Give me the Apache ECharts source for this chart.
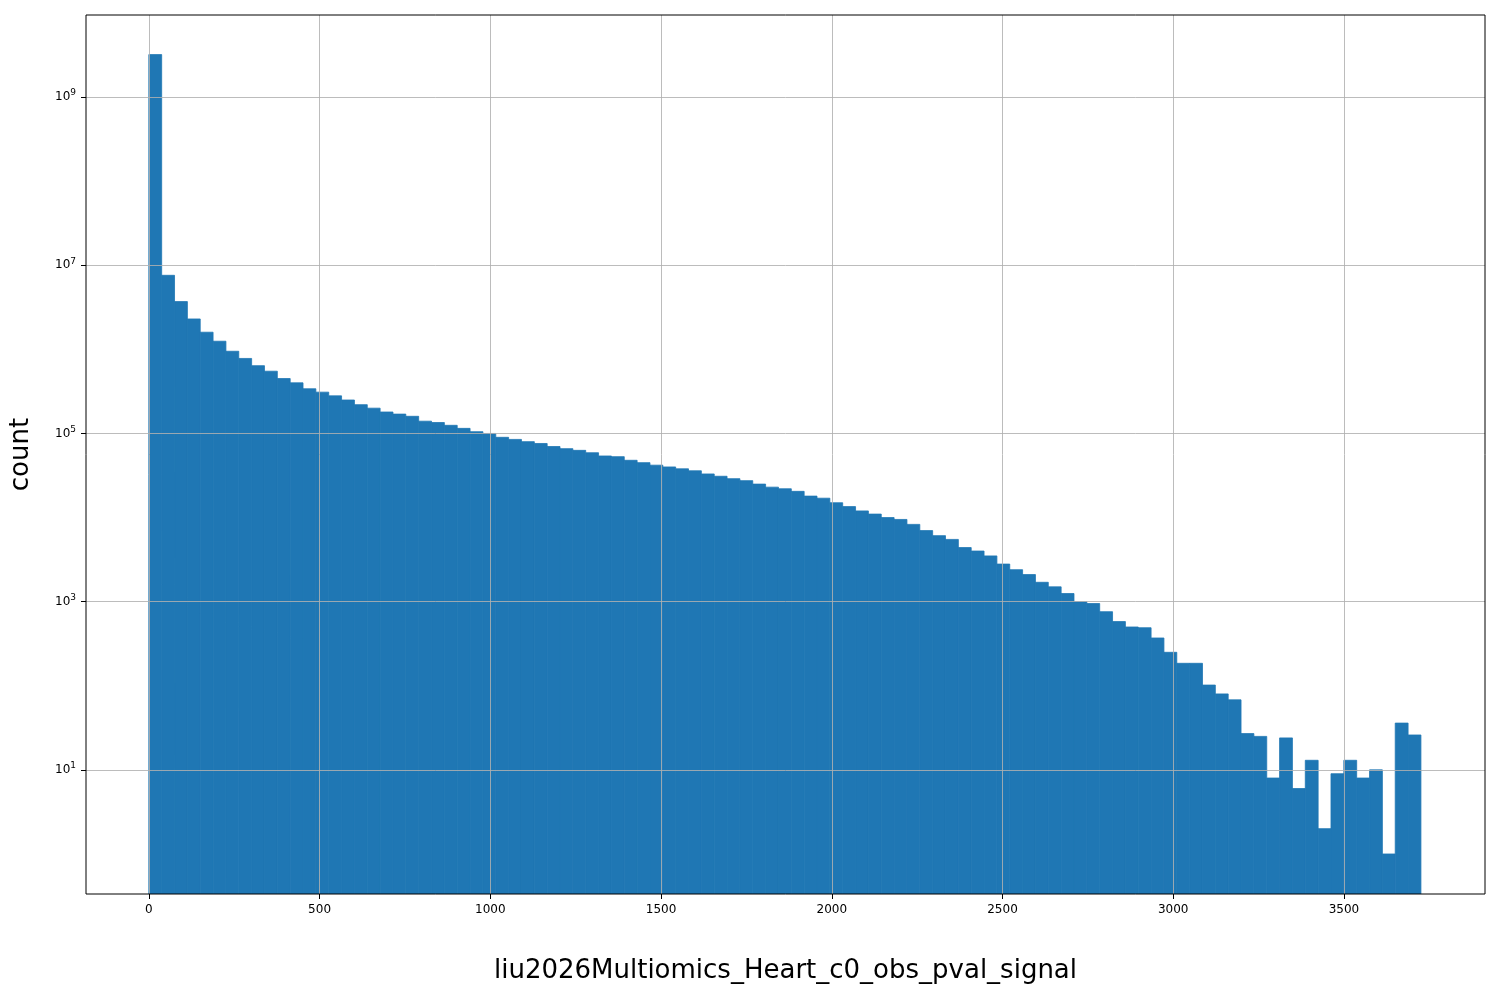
<!DOCTYPE html>
<html><head><meta charset="utf-8">
<script src="https://cdn.jsdelivr.net/npm/echarts@6/dist/echarts.min.js"></script>
<style>html,body{margin:0;padding:0;background:#fff}#c{width:1500px;height:1000px}</style>
</head><body><div id="c"></div>
<script>
const binWidth = 37.63;
const counts = [3.2e9,7.6e6,3.7e6,2.3e6,1.6e6,1.25e6,9.5e5,7.8e5,6.4e5,5.5e5,
4.5e5,4.0e5,3.4e5,3.1e5,2.8e5,2.5e5,2.2e5,2.0e5,1.8e5,1.7e5,
1.6e5,1.4e5,1.35e5,1.25e5,1.15e5,1.05e5,1.0e5,9e4,8.5e4,8e4,
7.6e4,7e4,6.6e4,6.3e4,5.9e4,5.4e4,5.3e4,4.8e4,4.5e4,4.2e4,
4.0e4,3.8e4,3.6e4,3.3e4,3.1e4,2.9e4,2.75e4,2.5e4,2.3e4,2.2e4,
2.05e4,1.8e4,1.7e4,1.5e4,1.35e4,1.2e4,1.1e4,1.0e4,9.5e3,8.3e3,
7e3,6.1e3,5.5e3,4.4e3,4e3,3.5e3,2.8e3,2.4e3,2.1e3,1.7e3,
1.5e3,1.25e3,1.0e3,950,760,580,500,490,370,250,
185,185,102,80,68,27,25,8,24,6,
13,2,9,13,8,10,1,36,26];
const xTicks = [0,500,1000,1500,2000,2500,3000,3500];
const yTickExps = [1,3,5,7,9];
const data = counts.map((c,i)=>[i*binWidth,(i+1)*binWidth,c]);
const yMin = -0.476, yMax = 9.976;
const chart = echarts.init(document.getElementById('c'));
const gridLine = {show:true,lineStyle:{color:'rgba(176,176,176,0.85)',width:1}};
chart.setOption({
  animation:false,
  grid:{left:85,right:15,top:15,bottom:106,show:true,borderColor:'#000',borderWidth:1,z:6},
  xAxis:{type:'value',min:-184,max:3913,z:5,
    name:'liu2026Multiomics_Heart_c0_obs_pval_signal',nameLocation:'middle',nameGap:64,
    nameTextStyle:{fontSize:26,color:'#000',fontFamily:'DejaVu Sans'},
    axisLine:{show:false,onZero:false},
    axisTick:{show:true,customValues:xTicks,length:5,lineStyle:{color:'#000'}},
    axisLabel:{customValues:xTicks,color:'#000',fontSize:12,fontFamily:'DejaVu Sans',margin:10,formatter:v=>String(v)},
    splitLine:gridLine},
  yAxis:{type:'value',min:yMin,max:yMax,z:5,
    name:'count',nameLocation:'middle',nameGap:52,
    nameTextStyle:{fontSize:26,color:'#000',fontFamily:'DejaVu Sans'},
    axisLine:{show:false,onZero:false},
    axisTick:{show:true,customValues:yTickExps,length:5,lineStyle:{color:'#000'}},
    axisLabel:{customValues:yTickExps,color:'#000',fontFamily:'DejaVu Sans',margin:10,
      formatter:v=>'{b|10}{s|'+Math.round(v)+'}',
      rich:{b:{fontSize:12,color:'#000'},s:{fontSize:9,color:'#000',verticalAlign:'bottom',padding:[0,0,8,0]}}},
    splitLine:gridLine},
  series:[{type:'custom',z:2,data:data,clip:true,
    renderItem:(params,api)=>{
      const p0=api.coord([api.value(0),Math.log10(api.value(2))]);
      const p1=api.coord([api.value(1),yMin]);
      return {type:'rect',shape:{x:p0[0],y:p0[1],width:p1[0]-p0[0],height:p1[1]-p0[1]},
        style:{fill:'#1f77b4',stroke:'#1f77b4',lineWidth:0.8}};
    }}]
});
</script></body></html>
